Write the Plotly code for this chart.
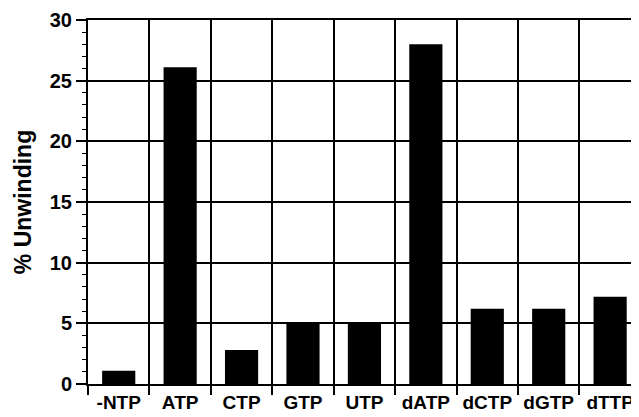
import plotly.graph_objects as go

categories = ["-NTP", "ATP", "CTP", "GTP", "UTP", "dATP", "dCTP", "dGTP", "dTTP"]
unwinding = [1.1, 26.1, 2.8, 5.1, 5.0, 28.0, 6.2, 6.2, 7.2]
y_ticks = [0, 5, 10, 15, 20, 25, 30]

fig = go.Figure()
fig.add_trace(go.Bar(
    x=categories, y=unwinding,
    marker=dict(color="black", line=dict(width=0)),
    width=0.54,
))

font_family = "Liberation Sans, Arial, Helvetica, sans-serif"

# page body has an 8px margin, so the figure is shrunk by 8px on each axis
fig.update_layout(
    width=631, height=409,
    margin=dict(l=80, r=0, t=12, b=33),
    paper_bgcolor="white", plot_bgcolor="white",
    showlegend=False,
    font=dict(family=font_family, color="black", size=19, weight="bold"),
)
fig.update_xaxes(
    type="category",
    range=[-0.5, 8.47],
    tickson="boundaries",
    showgrid=True, gridcolor="black", gridwidth=1.5,
    ticks="outside", ticklen=9, tickwidth=1.5, tickcolor="black",
    showline=True, linecolor="black", linewidth=2, mirror=True,
    tickfont=dict(size=19, family=font_family, weight="bold"),
    zeroline=False,
    automargin=False,
)
fig.update_yaxes(
    range=[0, 30],
    tickvals=y_ticks,
    showgrid=True, gridcolor="black", gridwidth=1.5,
    ticks="outside", ticklen=10, tickwidth=1.5, tickcolor="black",
    minor=dict(dtick=1, ticks="outside", ticklen=4, tickwidth=1, tickcolor="black", showgrid=False),
    showline=True, linecolor="black", linewidth=2,
    zeroline=False,
    automargin=False,
    tickfont=dict(size=20, family=font_family, weight="bold"),
    title=dict(text="% Unwinding", font=dict(size=23, family=font_family, weight="bold"), standoff=12),
)

fig.write_html("out.html")
